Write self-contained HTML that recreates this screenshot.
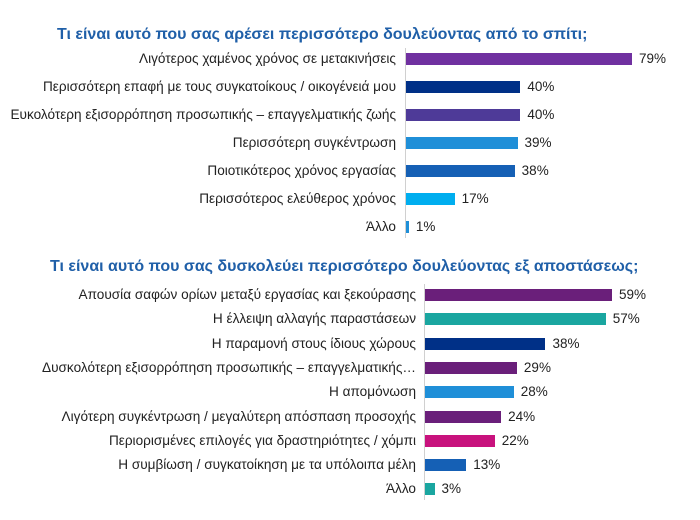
<!DOCTYPE html>
<html><head><meta charset="utf-8"><style>
body{margin:0;width:700px;height:520px;background:#fff;position:relative;overflow:hidden;font-family:"Liberation Sans",Arial,sans-serif;}
.t{position:absolute;color:#1f5fa8;font-weight:bold;font-size:16px;white-space:nowrap;}
.l{position:absolute;font-size:13.6px;color:#222;text-align:right;white-space:nowrap;}
.b{position:absolute;height:12px;}
.v{position:absolute;font-size:13.5px;color:#222;}
.ax{position:absolute;width:1px;background:#d0d0d0;}
</style></head><body>
<div class="t" style="left:57px;top:26px">Τι είναι αυτό που σας αρέσει περισσότερο δουλεύοντας από το σπίτι;</div>
<div class="ax" style="left:405px;top:48px;height:190px"></div>
<div class="t" style="left:50px;top:258px">Τι είναι αυτό που σας δυσκολεύει περισσότερο δουλεύοντας εξ αποστάσεως;</div>
<div class="ax" style="left:424px;top:284px;height:216px"></div>
<div id="c"></div>
<script>
var A=[["Λιγότερος χαμένος χρόνος σε μετακινήσεις",79,"#7030a0"],["Περισσότερη επαφή με τους συγκατοίκους / οικογένειά μου",40,"#003087"],["Ευκολότερη εξισορρόπηση προσωπικής – επαγγελματικής ζωής",40,"#4e3a98"],["Περισσότερη συγκέντρωση",39,"#1f8fd8"],["Ποιοτικότερος χρόνος εργασίας",38,"#1560b5"],["Περισσότερος ελεύθερος χρόνος",17,"#00aeef"],["Άλλο",1,"#1f8fd8"]];
var B=[["Απουσία σαφών ορίων μεταξύ εργασίας και ξεκούρασης",59,"#6a1f7a"],["Η έλλειψη αλλαγής παραστάσεων",57,"#1aa6a0"],["Η παραμονή στους ίδιους χώρους",38,"#003087"],["Δυσκολότερη εξισορρόπηση προσωπικής – επαγγελματικής…",29,"#6a1f7a"],["Η απομόνωση",28,"#1f8fd8"],["Λιγότερη συγκέντρωση / μεγαλύτερη απόσπαση προσοχής",24,"#6a1f7a"],["Περιορισμένες επιλογές για δραστηριότητες / χόμπι",22,"#c8127d"],["Η συμβίωση / συγκατοίκηση με τα υπόλοιπα μέλη",13,"#1560b5"],["Άλλο",3,"#1aa6a0"]];
var h="";
A.forEach(function(d,i){var y=59+i*28;var w=d[1]*2.86;
h+='<div class="l" style="right:'+(700-396)+'px;top:'+(y-8)+'px">'+d[0]+'</div>';
h+='<div class="b" style="left:406px;top:'+(y-6)+'px;width:'+w+'px;background:'+d[2]+'"></div>';
h+='<div class="v" style="left:'+(406+w+7)+'px;top:'+(y-8)+'px">'+d[1]+'%</div>';});
B.forEach(function(d,i){var y=295+i*24.3;var w=d[1]*3.17;
h+='<div class="l" style="right:'+(700-416)+'px;top:'+(y-8)+'px">'+d[0]+'</div>';
h+='<div class="b" style="left:425px;top:'+(y-6)+'px;width:'+w+'px;background:'+d[2]+'"></div>';
h+='<div class="v" style="left:'+(425+w+7)+'px;top:'+(y-8)+'px">'+d[1]+'%</div>';});
document.getElementById("c").innerHTML=h;
</script>
</body></html>
